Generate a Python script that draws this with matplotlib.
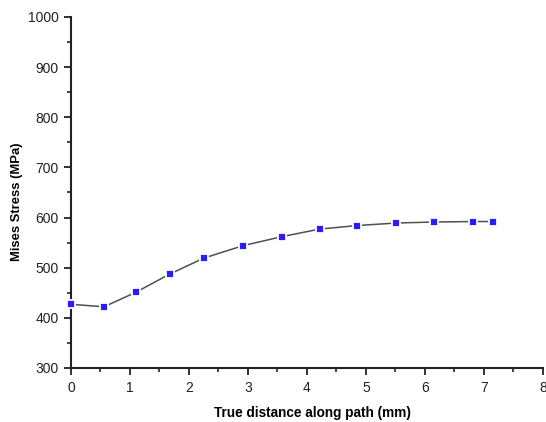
import matplotlib
matplotlib.use("Agg")
import matplotlib.pyplot as plt
from matplotlib.ticker import MultipleLocator

distance_mm = [0.0, 0.56, 1.10, 1.67, 2.25, 2.92, 3.58, 4.22, 4.85, 5.51, 6.15, 6.81, 7.15]
mises_mpa = [427, 422, 451, 487, 519, 544, 562, 577, 584, 589, 591, 592, 592]

plt.rcParams['font.family'] = ['Liberation Sans', 'DejaVu Sans']

fig = plt.figure(figsize=(5.46, 4.22), dpi=100)
ax = fig.add_axes([0.130, 0.128, 0.8645, 0.832])

ax.plot(distance_mm, mises_mpa, color='#505050', lw=1.1, zorder=2)
ax.plot(distance_mm, mises_mpa, ls='none', marker='s', ms=6.2, mew=1.3,
        markerfacecolor='#2a1cff', markeredgecolor='white', zorder=3, clip_on=False)

ax.set_xlim(0, 8)
ax.set_ylim(300, 1000)
ax.xaxis.set_major_locator(MultipleLocator(1))
ax.xaxis.set_minor_locator(MultipleLocator(0.5))
ax.yaxis.set_major_locator(MultipleLocator(100))
ax.yaxis.set_minor_locator(MultipleLocator(50))

for s in ['top', 'right']:
    ax.spines[s].set_visible(False)
for s in ['left', 'bottom']:
    ax.spines[s].set_linewidth(1.5)
    ax.spines[s].set_color('#222222')
    ax.spines[s].set_zorder(1)

ax.tick_params(which='major', direction='out', length=5, width=1.3, labelsize=10,
               colors='#222222', pad=4)
ax.tick_params(axis='x', which='major', pad=4.5)
ax.tick_params(which='minor', direction='out', length=3, width=1.2, colors='#222222')

ax.set_xlabel('True distance along path (mm)', fontsize=9.8, fontweight='bold')
ax.set_ylabel('Mises Stress (MPa)', fontsize=9.4, fontweight='bold')
ax.xaxis.set_label_coords(0.511, -45 / 351, transform=ax.transAxes)
ax.yaxis.set_label_coords(-54 / 472, 0.473, transform=ax.transAxes)
ax.xaxis.label.set_va('center')
ax.yaxis.label.set_va('center')

fig.savefig('out.png', dpi=100)
